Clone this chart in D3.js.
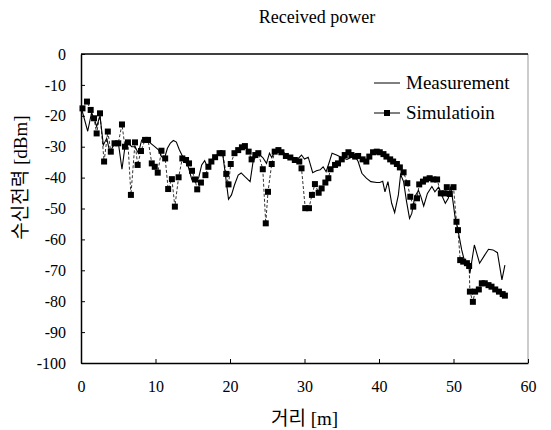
<!DOCTYPE html>
<html><head><meta charset="utf-8">
<script src="https://cdn.jsdelivr.net/npm/d3@7"></script>
<style>body{margin:0;background:#fff}svg{display:block}</style>
</head><body><div id="chart"></div>
<script>
const title = "Received power";
const xLabel = "거리";
const xUnit = " [m]";
const yLabel = "수신전력";
const yUnit = " [dBm]";
const seriesNames = ["Measurement", "Simulatioin"];
const xTicks = [0, 10, 20, 30, 40, 50, 60];
const yTicks = [0, -10, -20, -30, -40, -50, -60, -70, -80, -90, -100];

const measX = [0.0,0.9,1.4,1.8,2.1,2.55,3.0,3.45,3.9,4.5,5.0,5.5,5.9,6.3,6.8,7.25,7.7,8.15,8.8,9.2,9.9,10.4,10.8,11.2,11.6,12.0,12.4,12.8,13.2,13.8,14.4,14.9,15.4,15.8,16.2,16.6,17.0,17.5,18.0,18.6,19.0,19.3,19.8,20.2,20.6,21.1,21.5,22.0,22.7,23.1,23.5,24.0,24.4,24.9,25.3,25.6,26.0,26.5,27.3,28.0,28.6,29.0,29.6,30.0,30.5,31.1,31.6,32.1,32.5,32.9,33.3,33.7,34.3,35.0,35.7,36.3,36.8,37.2,37.7,38.3,38.9,39.7,40.1,40.5,40.8,41.2,41.7,42.1,42.6,42.9,43.3,43.7,44.1,44.4,44.8,45.3,45.6,46.0,46.5,47.1,47.5,48.0,48.4,48.9,49.3,49.6,49.9,50.2,50.6,51.1,51.5,52.0,52.2,52.8,53.5,54.1,54.7,55.3,55.9,56.5,56.9];
const measY = [-17,-25,-19.2,-21,-23.5,-20,-29.5,-27.3,-32.1,-28.5,-28.5,-37.3,-30,-28.6,-30,-30,-32.1,-27.8,-27.6,-28.6,-30,-31,-33.2,-33.8,-30.5,-28.8,-28,-28.5,-31,-34,-36.5,-40.8,-41.5,-40,-35.9,-34.5,-36.8,-34.5,-33.2,-31.9,-32,-37.5,-47,-45.6,-42.4,-39.2,-38.5,-39.7,-41.3,-34.8,-33,-32.7,-33.5,-35.4,-32.1,-33.5,-31.6,-31,-32,-33.5,-34.3,-34.2,-32.7,-34,-33.4,-38.4,-37.8,-37.5,-36.5,-38.1,-35.2,-32.1,-32.7,-33.5,-34.1,-33.4,-33.2,-34.8,-38.6,-40.2,-41.3,-41.6,-41.6,-41.2,-44.6,-41.3,-48.3,-51.3,-45.6,-39,-41.3,-47.8,-53.2,-51.6,-46.2,-44.2,-46,-49.2,-45.1,-42.9,-44.6,-43.1,-45.6,-48.3,-46.7,-42.9,-47.2,-52.6,-57,-63.4,-67.2,-68.3,-71,-61.8,-67.7,-65.4,-63.2,-63.4,-64.3,-73.1,-68.3];

const simX = [0.2,0.8,1.3,1.75,2.1,2.55,3.1,3.6,4.0,4.5,5.0,5.5,5.9,6.3,6.7,7.25,7.6,8.05,8.6,9.0,9.5,9.9,10.3,10.8,11.3,11.7,12.2,12.6,13.1,13.6,14.1,14.5,14.9,15.3,15.6,16.1,16.7,17.1,17.5,18.0,18.6,19.0,19.5,19.8,20.1,20.6,21.1,21.6,22.0,22.5,22.9,23.4,23.8,24.4,24.8,25.1,25.6,26.0,26.5,26.9,27.5,28.1,28.7,29.3,29.6,30.1,30.6,31.0,31.4,31.9,32.3,32.8,33.2,33.5,34.1,34.5,35.0,35.4,35.9,36.3,36.8,37.2,37.8,38.3,38.7,39.2,39.7,40.1,40.6,41.0,41.5,41.9,42.4,42.8,43.3,43.8,44.2,44.6,45.1,45.4,45.9,46.3,46.8,47.3,47.8,48.3,48.8,49.1,49.5,50.0,50.4,50.6,50.9,51.3,51.8,52.1,52.2,52.6,52.9,53.4,53.8,54.2,54.7,55.1,55.6,56.1,56.6,56.9];
const simY = [-17.6,-15.4,-18.1,-20.8,-25.7,-19.2,-34.8,-25.1,-31.6,-28.9,-28.9,-22.8,-30,-28.6,-45.6,-28.6,-35.9,-31.4,-27.8,-27.8,-35.4,-36.5,-38.4,-31.3,-33.8,-43.7,-40.5,-49.4,-39.9,-33.8,-34.3,-35.4,-37.8,-40.6,-43.8,-41.6,-39.2,-36.5,-34.8,-33.4,-32.1,-32.1,-38.8,-42.2,-35.6,-32.1,-31.1,-30.2,-29.8,-31.6,-34.1,-32.7,-32.1,-37.3,-54.8,-44.6,-35.6,-31.6,-31.1,-31.8,-33,-33.5,-34.3,-34.8,-37,-49.9,-49.9,-45.6,-42.1,-44.9,-43.5,-41.6,-40.2,-37.3,-35.9,-35.4,-34.1,-32.7,-31.8,-32.7,-33.2,-33,-34.1,-34.8,-33.2,-31.8,-31.6,-31.8,-32.4,-33.2,-34.1,-34.8,-35.6,-36.7,-38.3,-41.8,-46.2,-49.4,-46.7,-42.2,-41.3,-40.6,-40.2,-40.6,-40.6,-45.1,-45.1,-43.1,-45.3,-43.1,-54.3,-57,-66.7,-67.2,-67.7,-68.6,-76.9,-80.2,-76.9,-76.2,-74.2,-74.2,-74.8,-75.3,-76.2,-76.9,-77.7,-78.2];

const W = 551, H = 430;
const margin = {left: 81, right: 23, top: 54, bottom: 67};
const pw = W - margin.left - margin.right, ph = H - margin.top - margin.bottom;
const serif = "'Liberation Serif','Times New Roman',serif";
const kfont = "'Noto Sans CJK KR','Noto Sans CJK SC',sans-serif";

const svg = d3.select("#chart").append("svg").attr("width", W).attr("height", H);
const x = d3.scaleLinear().domain([0, 60]).range([margin.left, margin.left + pw]);
const y = d3.scaleLinear().domain([-100, 0]).range([margin.top + ph, margin.top]);

// frame
svg.append("line").attr("x1", x(60)).attr("x2", x(60)).attr("y1", y(0)).attr("y2", y(-100))
  .attr("stroke", "#999").attr("stroke-width", 1);
svg.append("line").attr("x1", x(0)).attr("x2", x(60)).attr("y1", y(0)).attr("y2", y(0))
  .attr("stroke", "#000").attr("stroke-width", 1.5);

const fmt = d => String(d);
const xAxis = svg.append("g").attr("transform", `translate(0,${y(-100)})`)
  .call(d3.axisBottom(x).tickValues(xTicks).tickFormat(fmt).tickSizeInner(-4).tickSizeOuter(0).tickPadding(18));
const yAxis = svg.append("g").attr("transform", `translate(${x(0)},0)`)
  .call(d3.axisLeft(y).tickValues(yTicks).tickFormat(fmt).tickSizeInner(-4).tickSizeOuter(0).tickPadding(15));
[xAxis, yAxis].forEach(g => {
  g.selectAll("path").attr("stroke", "#000").attr("stroke-width", 1.5);
  g.selectAll("line").attr("stroke", "#000");
  g.selectAll("text").attr("font-family", serif).attr("font-size", 16).attr("fill", "#000");
});

// lines
const measData = measX.map((v, i) => [v, measY[i]]);
const simData = simX.map((v, i) => [v, simY[i]]);
const line = d3.line().x(d => x(d[0])).y(d => y(d[1]));
svg.append("path").datum(simData).attr("d", line).attr("fill", "none")
  .attr("stroke", "#333").attr("stroke-width", 1).attr("stroke-dasharray", "3,2");
svg.append("path").datum(measData).attr("d", line).attr("fill", "none")
  .attr("stroke", "#000").attr("stroke-width", 1.1);
const ms = 6;
svg.append("g").selectAll("rect").data(simData).join("rect")
  .attr("x", d => x(d[0]) - ms/2).attr("y", d => y(d[1]) - ms/2)
  .attr("width", ms).attr("height", ms).attr("fill", "#000");

// title
svg.append("text").attr("x", 317).attr("y", 23).attr("text-anchor", "middle")
  .attr("font-family", serif).attr("font-size", 18).text(title);

// x label
const xl = svg.append("text").attr("x", (x(0) + x(60)) / 2).attr("y", 425).attr("text-anchor", "middle")
  .attr("font-size", 19);
xl.append("tspan").attr("font-family", kfont).text(xLabel);
xl.append("tspan").attr("font-family", serif).text(xUnit);

// y label
const yl = svg.append("text").attr("transform", `translate(27,${y(-40)}) rotate(-90)`)
  .attr("text-anchor", "middle").attr("font-size", 19);
yl.append("tspan").attr("font-family", kfont).text(yLabel);
yl.append("tspan").attr("font-family", serif).text(yUnit);

// legend
const lg = svg.append("g");
const lx0 = 374, lx1 = 400;
lg.append("line").attr("x1", lx0).attr("x2", lx1).attr("y1", 83).attr("y2", 83).attr("stroke", "#000");
lg.append("text").attr("x", 406).attr("y", 89).attr("font-family", serif).attr("font-size", 19).text(seriesNames[0]);
lg.append("line").attr("x1", lx0).attr("x2", lx1).attr("y1", 113).attr("y2", 113).attr("stroke", "#000");
lg.append("rect").attr("x", (lx0 + lx1) / 2 - 3).attr("y", 110).attr("width", 6).attr("height", 6).attr("fill", "#000");
lg.append("text").attr("x", 406).attr("y", 119).attr("font-family", serif).attr("font-size", 19).text(seriesNames[1]);
</script></body></html>
